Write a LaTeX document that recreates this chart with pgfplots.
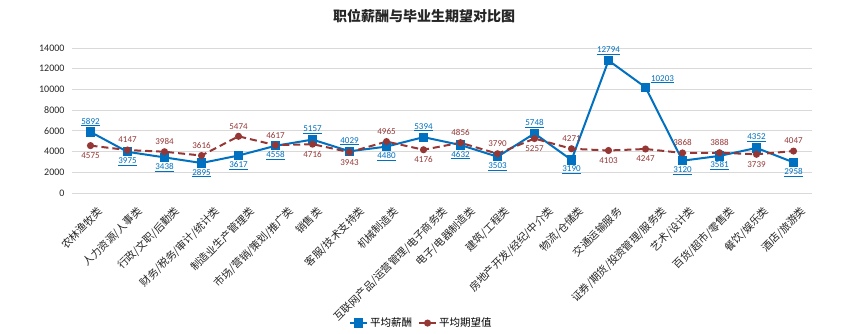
\documentclass[border=0pt]{standalone}
\usepackage{pgfplots}
\pgfplotsset{compat=1.18}
\usepackage{pgfplotstable}
\usepackage{fontspec}
\setmainfont{Carlito}
\newfontfamily\cjk{Noto Sans CJK SC}
\definecolor{salblue}{HTML}{0070C0}
\definecolor{expred}{HTML}{953735}
\definecolor{gridgray}{HTML}{D9D9D9}

% x, value, label offsets (dx, dy)
\pgfplotstableread{
x y dx dy
0 5892 0 10
1 3975 0 -10
2 3438 0 -10
3 2895 0 -10
4 3617 0 -10
5 4558 0 -10
6 5157 0 10
7 4029 0 10
8 4480 0 -10
9 5394 0 10
10 4632 0 -10
11 3503 0 -10
12 5748 0 10
13 3190 0 -10
14 12794 0 10
15 10203 17 8
16 3120 0 -10
17 3581 0 -10
18 4352 0 10
19 2958 0 -10
}\salary

\pgfplotstableread{
x y dx dy
0 4575 0 -10
1 4147 0 10
2 3984 0 10
3 3616 0 10
4 5474 0 10
5 4617 0 10
6 4716 0 -10
7 3943 0 -10
8 4965 0 10
9 4176 0 -10
10 4856 0 10
11 3790 0 10
12 5257 0 -10
13 4271 0 10
14 4103 0 -10
15 4247 0 -10
16 3868 0 10
17 3888 0 10
18 3739 0 -10
19 4047 0 10
}\expect

\newlength\xlw
\newcommand\xl[1]{\settowidth\xlw{#1}\xlw=0.085\xlw\raisebox{-\xlw}[\height][\depth]{#1\hspace*{-\xlw}}}

\begin{document}
\begin{tikzpicture}
\useasboundingbox (-72pt,-141pt) rectangle (778pt,193pt);
\begin{axis}[
  scale only axis,
  width=740pt, height=145pt,
  xmin=-0.5, xmax=19.5,
  ymin=0, ymax=14000,
  ytick={0,2000,...,14000},
  scaled y ticks=false,
  /pgf/number format/.cd, 1000 sep={}, assume math mode=true, /pgfplots/.cd,
  xtick={0,...,19},
  xticklabels={\xl{农林渔牧类},\xl{人力资源/人事类},\xl{行政/文职/后勤类},\xl{财务/税务/审计/统计类},\xl{制造业生产管理类},\xl{市场/营销/策划/推广类},\xl{销售类},\xl{客服/技术支持类},\xl{机械制造类},\xl{互联网产品/运营管理/电子商务类},\xl{电子/电器制造类},\xl{建筑/工程类},\xl{房地产开发/经纪/中介类},\xl{物流/仓储类},\xl{交通运输服务},\xl{证券/期货/投资管理/服务类},\xl{艺术/设计类},\xl{百货/超市/零售类},\xl{餐饮/娱乐类},\xl{酒店/旅游类}},
  xticklabel style={font=\cjk\fontsize{10.5}{11}\selectfont, xshift=3.7pt, yshift=-16.5pt, rotate=45, anchor=east, inner sep=0pt, text=black!85},
  yticklabel style={font=\fontsize{10}{12}\selectfont, xshift=-4pt, text=black!85},
  major tick length=0pt,
  axis line style={draw=none},
  ymajorgrids,
  major grid style={gridgray, line width=0.8pt},
  clip=false,
  title={职位薪酬与毕业生期望对比图},
  title style={font=\cjk\bfseries\fontsize{14}{16}\selectfont, at={(axis description cs:0.476,1.178)}, anchor=center, text=black!85},
  legend style={draw=none, fill=none, legend columns=2, font=\cjk\fontsize{10.5}{12}\selectfont, at={(axis description cs:0.472,-0.897)}, anchor=center, /tikz/every even column/.append style={column sep=4pt}, inner sep=1pt},
]
\addplot[salblue, line width=2pt, mark=square*, mark size=3.6pt, mark options={solid},
  point meta=explicit symbolic,
  visualization depends on={\thisrow{dx} \as \dxv},
  visualization depends on={\thisrow{dy} \as \dyv},
  nodes near coords={\underline{\pgfplotspointmeta}},
  every node near coord/.append style={font=\fontsize{9}{10}\selectfont, text=salblue, anchor=center, inner sep=0pt, xshift=\dxv, yshift=\dyv}]
  table[x=x, y=y, meta=y] {\salary};
\addlegendentry{平均薪酬}
\addplot[expred, line width=2pt, dash pattern=on 7pt off 4pt, mark=*, mark size=2.5pt, mark options={solid},
  point meta=explicit symbolic,
  visualization depends on={\thisrow{dx} \as \dxv},
  visualization depends on={\thisrow{dy} \as \dyv},
  nodes near coords={\pgfplotspointmeta},
  every node near coord/.append style={font=\fontsize{9}{10}\selectfont, text=expred, anchor=center, inner sep=0pt, xshift=\dxv, yshift=\dyv}]
  table[x=x, y=y, meta=y] {\expect};
\addlegendentry{平均期望值}
\end{axis}
\end{tikzpicture}
\end{document}
